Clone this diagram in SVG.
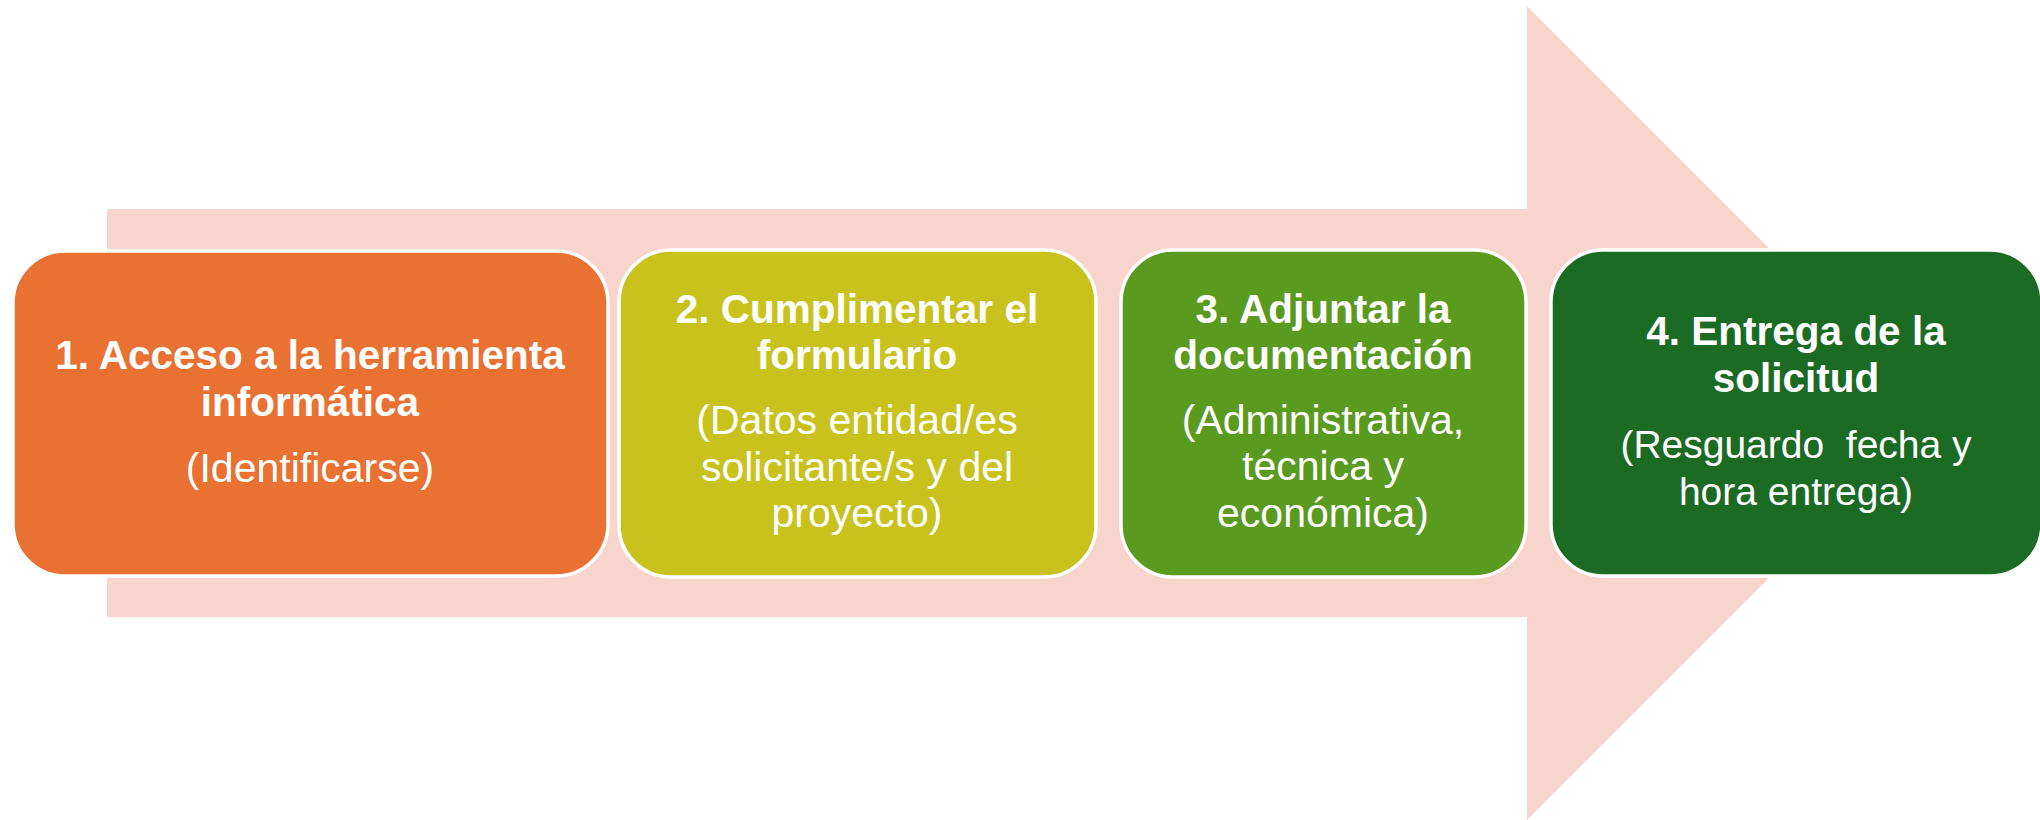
<svg xmlns="http://www.w3.org/2000/svg" width="2040" height="820" viewBox="0 0 2040 820">
<style>
.box{stroke:#ffffff;stroke-width:3.5}
.t{font-family:"Liberation Sans",Arial,sans-serif;fill:#ffffff;text-anchor:middle}
.b{font-weight:bold;font-size:40.5px}
.r{font-size:41px}
.r4{font-size:39px}
</style>
<rect width="2040" height="820" fill="#ffffff"/>
<g id="connectors">
<polygon id="arrow" points="107,209 1527,209 1527,6 1934,413 1527,820 1527,617 107,617" fill="#F7D5CC"/>
</g>
<g id="step1">
<rect class="box" x="13" y="251" width="595" height="325" rx="52" fill="#E97132"/>
<text class="t b" x="310" y="369">1. Acceso a la herramienta</text>
<text class="t b" x="310" y="416">informática</text>
<text class="t r" x="310" y="482">(Identificarse)</text>
</g>
<g id="step2">
<rect class="box" x="619" y="250" width="477" height="327" rx="52" fill="#C9C21D"/>
<text class="t b" x="857" y="323">2. Cumplimentar el</text>
<text class="t b" x="857" y="369">formulario</text>
<text class="t r" x="857" y="434">(Datos entidad/es</text>
<text class="t r" x="857" y="481">solicitante/s y del</text>
<text class="t r" x="857" y="527">proyecto)</text>
</g>
<g id="step3">
<rect class="box" x="1121" y="250" width="405" height="327" rx="52" fill="#5A9A1F"/>
<text class="t b" x="1323" y="323">3. Adjuntar la</text>
<text class="t b" x="1323" y="369">documentación</text>
<text class="t r" x="1323" y="434">(Administrativa,</text>
<text class="t r" x="1323" y="480">técnica y</text>
<text class="t r" x="1323" y="527">económica)</text>
</g>
<g id="step4">
<rect class="box" x="1551" y="250" width="491" height="326" rx="52" fill="#1B6B24"/>
<text class="t b" x="1796" y="345">4. Entrega de la</text>
<text class="t b" x="1796" y="392">solicitud</text>
<text class="t r4" x="1796" y="458" xml:space="preserve">(Resguardo  fecha y</text>
<text class="t r4" x="1796" y="505">hora entrega)</text>
</g>
</svg>
